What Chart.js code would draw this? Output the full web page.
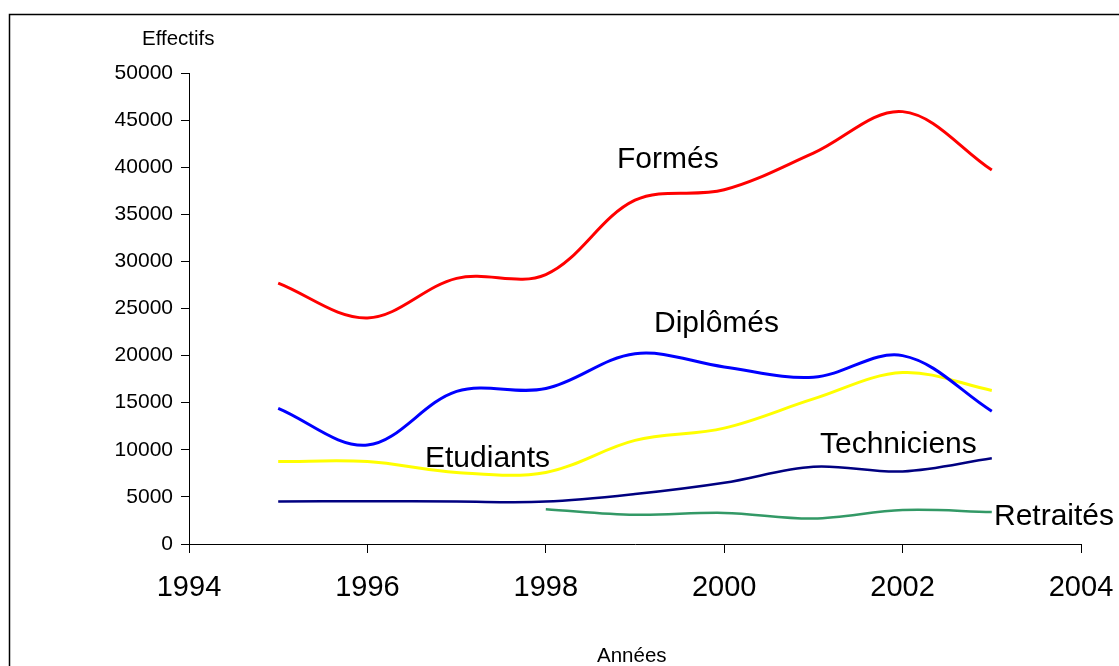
<!DOCTYPE html>
<html>
<head>
<meta charset="utf-8">
<script src="https://cdn.jsdelivr.net/npm/chart.js@4/dist/chart.umd.min.js"></script>
<style>
  body { margin: 0; background: #fff; }
  canvas { display: block; }
</style>
</head>
<body>
<canvas id="myChart" width="1119" height="666"></canvas>
<script>
// values
const years = [1995, 1996, 1997, 1998, 1999, 2000, 2001, 2002, 2003];
const formes = [27700, 24000, 28200, 28600, 36500, 37600, 41500, 45900, 39700];
const diplomes = [14400, 10500, 16200, 16500, 20200, 18800, 17700, 20000, 14100];
const etudiants = [8750, 8750, 7600, 7600, 11000, 12300, 15400, 18200, 16300];
const techniciens = [4500, 4550, 4500, 4500, 5300, 6500, 8200, 7700, 9100];
const retraitesYears = [1998, 1999, 2000, 2001, 2002, 2003];
const retraites = [3700, 3100, 3300, 2700, 3600, 3400];
const xTicks = [1994, 1996, 1998, 2000, 2002, 2004];
const yTicks = [0, 5000, 10000, 15000, 20000, 25000, 30000, 35000, 40000, 45000, 50000];

const ctx = document.getElementById('myChart').getContext('2d');
const FONT = '"Liberation Sans", Arial, sans-serif';

function pts(xs, ys) {
  return xs.map(function (x, i) { return { x: x, y: ys[i] } })
}

function serie(label, xs, ys, color, width) {
  return {
    label: label,
    data: pts(xs, ys),
    borderColor: color,
    backgroundColor: color,
    borderWidth: width,
    pointRadius: 0,
    fill: false,
    tension: 0.35
  }
}

// frame + free texts (series names, axis titles)
const decor = {
  id: 'decor',
  beforeDraw(chart) {
    const c = chart.ctx;
    c.save();
    c.fillStyle = '#fff';
    c.fillRect(0, 0, chart.width, chart.height);
    c.strokeStyle = '#000';
    c.lineWidth = 1.5;
    c.strokeRect(9.5, 14.5, 1300, 800);
    c.restore();
  },
  afterDraw(chart) {
    const c = chart.ctx;
    c.save();
    c.fillStyle = '#000';
    c.textBaseline = 'alphabetic';
    c.textAlign = 'left';
    c.font = '30px ' + FONT;
    c.fillText('Formés', 617, 168);
    c.fillText('Diplômés', 654, 332);
    c.fillText('Etudiants', 425, 467);
    c.fillText('Techniciens', 820, 453);
    c.fillText('Retraités', 994, 525);
    c.font = '20.5px ' + FONT;
    c.fillText('Effectifs', 142, 45);
    c.fillText('Années', 597, 662);
    c.restore();
  }
};

new Chart(ctx, {
  type: 'line',
  data: {
    datasets: [
      serie('Formés', years, formes, '#ff0000', 3),
      serie('Diplômés', years, diplomes, '#0000ff', 3),
      serie('Etudiants', years, etudiants, '#ffff00', 3),
      serie('Techniciens', years, techniciens, '#000080', 2.5),
      serie('Retraités', retraitesYears, retraites, '#339966', 2.5)
    ]
  },
  options: {
    responsive: false,
    devicePixelRatio: 1,
    animation: false,
    layout: { padding: { left: 0, top: 73, right: 38, bottom: 0 } },
    plugins: {
      legend: { display: false },
      tooltip: { enabled: false }
    },
    scales: {
      x: {
        type: 'linear',
        min: xTicks[0],
        max: xTicks[xTicks.length - 1],
        afterBuildTicks: function (s) { s.ticks = xTicks.map(function (v) { return { value: v } }) },
        afterFit: function (s) {
          s.height = 122;
          s.paddingLeft = 0;
          s.paddingRight = 0;
        },
        grid: { drawOnChartArea: false, drawTicks: true, tickLength: 9, color: '#000' },
        border: { display: true, color: '#000', width: 1 },
        ticks: {
          color: '#000',
          padding: 18,
          maxRotation: 0,
          autoSkip: false,
          font: { family: FONT, size: 29 },
          callback: function (v) { return String(v) }
        }
      },
      y: {
        min: 0,
        max: 50000,
        afterBuildTicks: function (s) { s.ticks = yTicks.map(function (v) { return { value: v } }) },
        afterFit: function (s) {
          s.width = 189;
          s.paddingTop = 0;
          s.paddingBottom = 0;
        },
        grid: { drawOnChartArea: false, drawTicks: true, tickLength: 8, color: '#000' },
        border: { display: true, color: '#000', width: 1 },
        ticks: {
          color: '#000',
          padding: 8,
          autoSkip: false,
          font: { family: FONT, size: 21 },
          callback: function (v) { return String(v) }
        }
      }
    }
  },
  plugins: [decor]
});
</script>
</body>
</html>
